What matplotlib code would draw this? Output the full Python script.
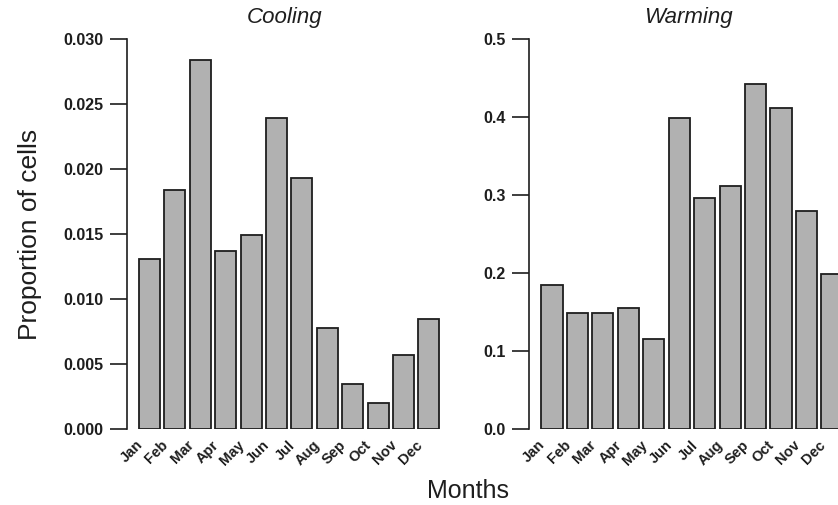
import matplotlib
matplotlib.use("Agg")
import matplotlib.pyplot as plt
import matplotlib.transforms as mtrans

months = ["Jan", "Feb", "Mar", "Apr", "May", "Jun", "Jul", "Aug", "Sep", "Oct", "Nov", "Dec"]
cooling = [0.0131, 0.0184, 0.0284, 0.0137, 0.0149, 0.0239, 0.0193, 0.0078, 0.0035, 0.0020, 0.0057, 0.0085]
warming = [0.185, 0.149, 0.149, 0.155, 0.116, 0.399, 0.296, 0.312, 0.442, 0.412, 0.279, 0.199]
cool_ticks = [0.000, 0.005, 0.010, 0.015, 0.020, 0.025, 0.030]
cool_ticklabels = ["0.000", "0.005", "0.010", "0.015", "0.020", "0.025", "0.030"]
warm_ticks = [0.0, 0.1, 0.2, 0.3, 0.4, 0.5]
warm_ticklabels = ["0.0", "0.1", "0.2", "0.3", "0.4", "0.5"]

plt.rcParams['font.family'] = ['Liberation Sans', 'DejaVu Sans']

W, H = 838, 505
fig = plt.figure(figsize=(W / 100, H / 100), dpi=100)

BAR = "#b1b1b1"
EDGE = "#1e1e1e"
TXT = "#1e1e1e"

def make_panel(left_px, right_px, xlim, vals, ticks, ticklabels, title, title_x):
    ax = fig.add_axes([left_px / W, (H - 429) / H, (right_px - left_px) / W, 390 / H])
    x = list(range(len(vals)))
    ax.bar(x, vals, width=0.83, color=BAR, edgecolor=EDGE, linewidth=1.3, clip_on=True)
    ax.set_xlim(*xlim)
    ax.set_ylim(ticks[0], ticks[-1])
    for s in ["top", "right", "bottom"]:
        ax.spines[s].set_visible(False)
    ax.spines["left"].set_bounds(ticks[0], ticks[-1])
    ax.spines["left"].set_linewidth(1.2)
    ax.spines["left"].set_color(EDGE)
    ax.set_yticks(ticks)
    ax.set_yticklabels(ticklabels, fontsize=11.5, fontweight="bold", color=TXT)
    ax.tick_params(axis="y", direction="out", length=12, width=1.2, color=EDGE, pad=5)
    ax.set_xticks(x)
    ax.set_xticklabels(months, rotation=45, ha="right", va="center", rotation_mode="anchor",
                       fontsize=10.5, fontweight="bold", color=TXT)
    ax.tick_params(axis="x", length=0, pad=10)
    off = mtrans.ScaledTranslation(-9 / 100, 0, fig.dpi_scale_trans)
    for lab in ax.get_xticklabels():
        lab.set_transform(lab.get_transform() + off)
    ax.patch.set_visible(False)
    fig.text(title_x / W, 1 - 18 / H, title, ha="center", va="center",
             fontsize=16, fontstyle="italic", color=TXT)
    return ax

make_panel(127, 450, (-0.886, 11.83), cooling, cool_ticks, cool_ticklabels, "Cooling", 285)
make_panel(529, 838, (-0.904, 11.24), warming, warm_ticks, warm_ticklabels, "Warming", 688)

fig.text(30 / W, 1 - 234 / H, "Proportion of cells", rotation=90, ha="center", va="center",
         fontsize=19, color=TXT)
fig.text(468 / W, 1 - 491 / H, "Months", ha="center", va="center", fontsize=18, color=TXT)

fig.savefig("out.png", dpi=100)
